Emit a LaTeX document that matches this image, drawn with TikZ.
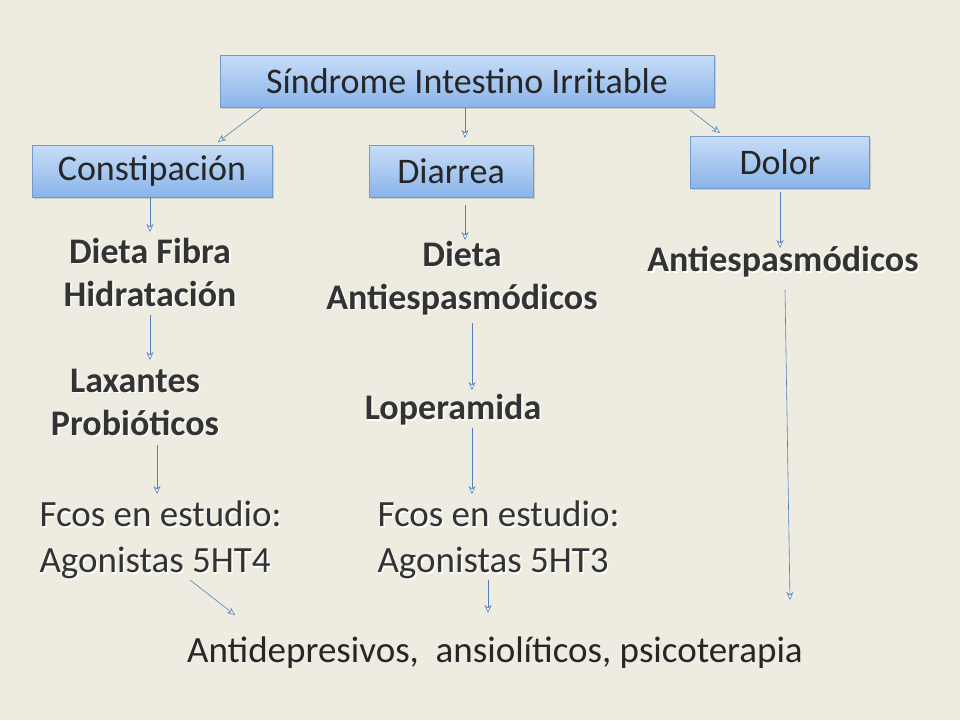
\documentclass[tikz,border=0pt]{standalone}
\usepackage{fontspec}
\setmainfont{Carlito}
\usetikzlibrary{arrows.meta,shadows,calc}
\definecolor{bg}{HTML}{EEEBE1}
\definecolor{bx1}{HTML}{C8DDF7}
\definecolor{bx2}{HTML}{8AB4EA}
\definecolor{bxd}{HTML}{4F81BD}
\tikzset{
 box/.style={draw=bxd!80,line width=0.6pt,top color=bx1,bottom color=bx2,minimum height=52pt,inner sep=0pt,font=\fontsize{36}{40}\selectfont,text=black!85,drop shadow={shadow xshift=1.5pt,shadow yshift=-2pt,opacity=0.3}},
 arr/.style={draw=bxd,line width=0.6pt,-{Stealth[length=8pt,width=7pt,open,fill=white]}},
 bt/.style={font=\bfseries\fontsize{36}{43}\selectfont,align=center,text=black!80},
 rt/.style={font=\fontsize{37}{46}\selectfont,align=left,text=black!80},
}
\newcommand{\shtext}[3]{\node[#1,text=white] at ($(#2)+(1.6pt,-1.6pt)$) {#3};\node[#1] at (#2) {#3};}
\begin{document}
\begin{tikzpicture}[x=1pt,y=-1pt]
\fill[bg] (0,0) rectangle (960,720);
\node[box,minimum width=494pt] (top) at (467,81) {Síndrome Intestino Irritable};
\node[box,minimum width=240pt] (con) at (152,171) {Constipación};
\node[box,minimum width=164pt] (dia) at (451,171) {Diarrea};
\node[box,minimum width=179pt] (dol) at (780,162) {Dolor};
\shtext{bt}{150,272}{Dieta Fibra\\Hidratación}
\shtext{bt}{462,278}{Dieta\\Antiespasmódicos}
\shtext{bt}{783,262}{Antiespasmódicos}
\shtext{bt}{135,402}{Laxantes\\Probióticos}
\shtext{bt}{453,410}{Loperamida}
\shtext{rt,anchor=west}{36,540}{Fcos en estudio:\\Agonistas 5HT4}
\shtext{rt,anchor=west}{374,540}{Fcos en estudio:\\Agonistas 5HT3}
\node[font=\fontsize{37}{40}\selectfont,text=black!85] (bot) at (495,653) {Antidepresivos,\ \ ansiolíticos, psicoterapia};
\draw[arr] (263,108) -- (218,142);
\draw[arr] (465,108) -- (465,138);
\draw[arr] (690,110) -- (720,133);
\draw[arr] (150,197) -- (150,232);
\draw[arr] (465,205) -- (465,240);
\draw[arr] (780,192) -- (780,248);
\draw[arr] (150,315) -- (150,360);
\draw[arr] (472,323) -- (472,390);
\draw[arr] (157,445) -- (157,494);
\draw[arr] (472,428) -- (472,494);
\draw[arr] (190,580) -- (235,615);
\draw[arr] (488,580) -- (488,613);
\draw[arr] (785,290) -- (790,600);
\end{tikzpicture}
\end{document}
